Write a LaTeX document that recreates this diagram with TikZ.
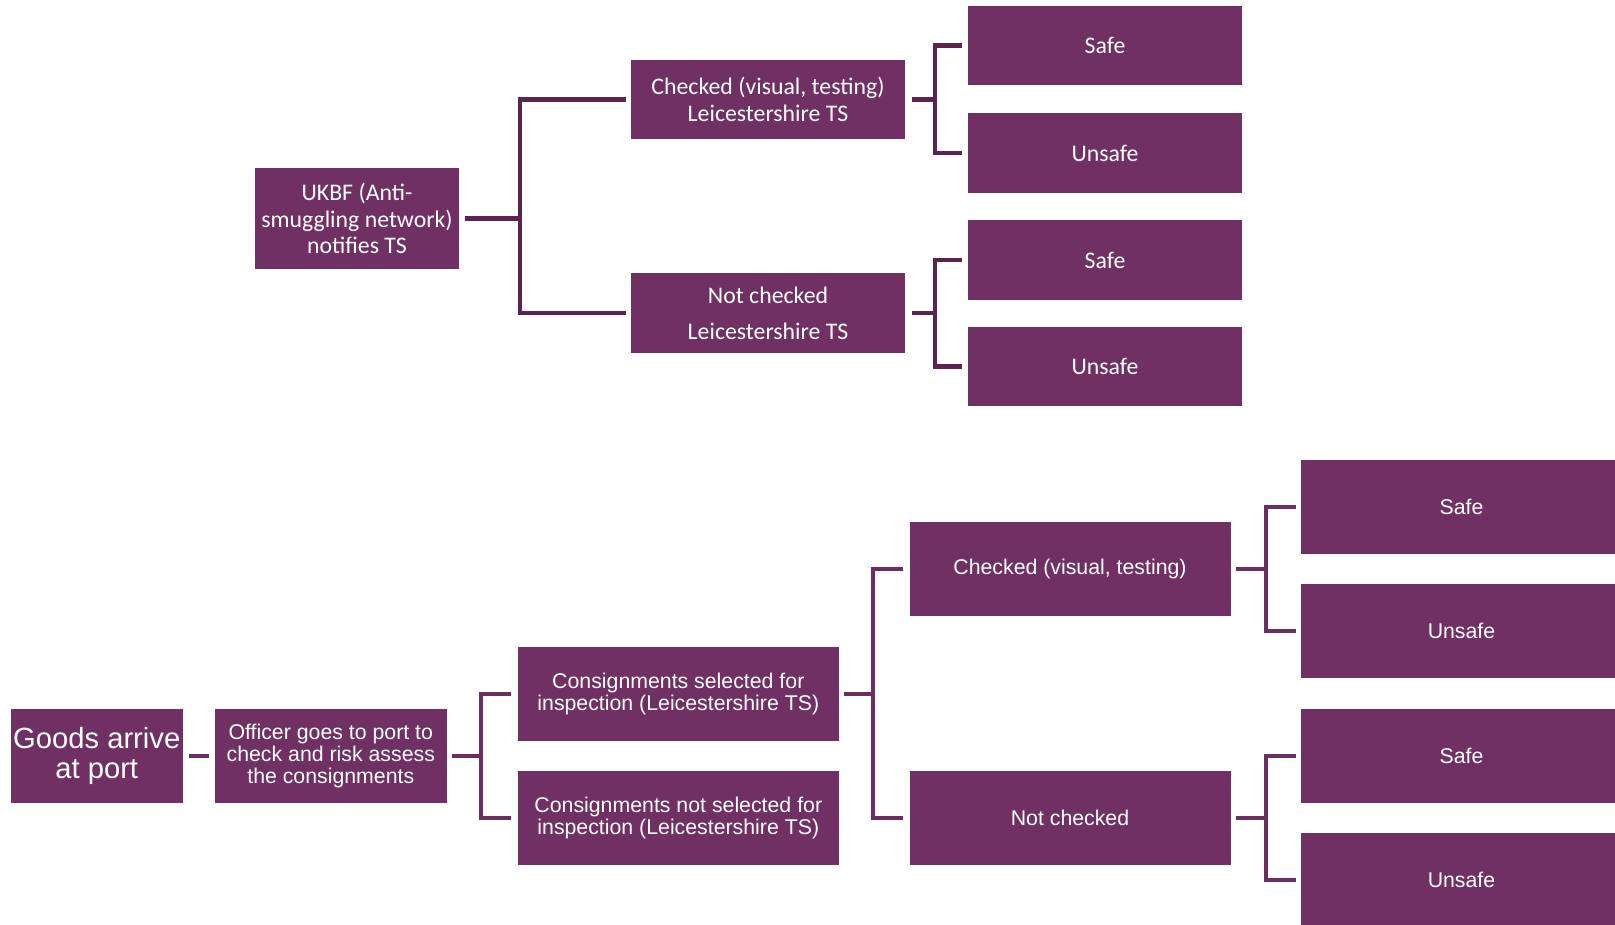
\documentclass[tikz,border=0pt]{standalone}
\usepackage{fontspec}
\newfontfamily\calib{Carlito}
\newfontfamily\arialf{Liberation Sans}
\definecolor{boxc}{RGB}{112,48,100}
\definecolor{tline}{RGB}{92,34,80}
\definecolor{bline}{RGB}{108,46,97}
\begin{document}
\begin{tikzpicture}[x=1pt,y=-1pt,
  box/.style={fill=boxc, draw=none, text=white, inner sep=0pt, align=center},
  tb/.style={box, font=\calib\fontsize{23.8}{26.6}\selectfont},
  bb/.style={box, font=\arialf\fontsize{21.3}{22.4}\selectfont},
  tconn/.style={draw=tline, line width=4.5pt},
  bconn/.style={draw=bline, line width=4.5pt}]
\clip (0,0) rectangle (1615,925);
\fill[white] (0,0) rectangle (1615,925);
% ---------- top tree ----------
\node[tb, minimum width=204pt, minimum height=101pt] (ukbf) at (357,218.5) {UKBF (Anti-\\smuggling network)\\notifies TS};
\node[tb, minimum width=274pt, minimum height=79pt] (tchk) at (768,99.5) {Checked (visual, testing)\\Leicestershire TS};
\node[tb, minimum width=274pt, minimum height=80pt] (tnot) at (768,313) {Not checked\\[9.2pt]Leicestershire TS};
\node[tb, minimum width=274pt, minimum height=79pt] (ts1) at (1105,45.5) {Safe};
\node[tb, minimum width=274pt, minimum height=80pt] (tu1) at (1105,153) {Unsafe};
\node[tb, minimum width=274pt, minimum height=80pt] (ts2) at (1105,260) {Safe};
\node[tb, minimum width=274pt, minimum height=79pt] (tu2) at (1105,366.5) {Unsafe};
\coordinate (f1) at (520,0);
\coordinate (f2) at (935,0);
\draw[tconn] ([xshift=5.5pt]ukbf.east) -- (ukbf.east -| f1);
\draw[tconn] ([xshift=-5pt]tchk.west) -- (tchk.west -| f1) -- (tnot.west -| f1) -- ([xshift=-5pt]tnot.west);
\draw[tconn] ([xshift=7pt]tchk.east) -- (tchk.east -| f2);
\draw[tconn] ([xshift=-6pt]ts1.west) -- (ts1.west -| f2) -- (tu1.west -| f2) -- ([xshift=-6pt]tu1.west);
\draw[tconn] ([xshift=7pt]tnot.east) -- (tnot.east -| f2);
\draw[tconn] ([xshift=-6pt]ts2.west) -- (ts2.west -| f2) -- (tu2.west -| f2) -- ([xshift=-6pt]tu2.west);
% ---------- bottom tree ----------
\node[box, font=\arialf\fontsize{29.2}{30}\selectfont, minimum width=171.5pt, minimum height=94pt] (goods) at (96.75,756) {Goods arrive\\at port};
\node[bb, minimum width=231.6pt, minimum height=94pt] (off) at (330.8,756) {Officer goes to port to\\check and risk assess\\the consignments};
\node[bb, minimum width=320.7pt, minimum height=94pt] (sel) at (678.3,694) {Consignments selected for\\inspection (Leicestershire TS)};
\node[bb, minimum width=320.7pt, minimum height=94pt] (nsel) at (678.3,818) {Consignments not selected for\\inspection (Leicestershire TS)};
\node[bb, minimum width=321pt, minimum height=94pt] (bchk) at (1070,569) {Checked (visual, testing)};
\node[bb, minimum width=321pt, minimum height=94pt] (bnot) at (1070,818) {Not checked};
\node[bb, minimum width=321pt, minimum height=94pt] (bs1) at (1461.5,507) {Safe};
\node[bb, minimum width=321pt, minimum height=94pt] (bu1) at (1461.5,631) {Unsafe};
\node[bb, minimum width=321pt, minimum height=94pt] (bs2) at (1461.5,756) {Safe};
\node[bb, minimum width=321pt, minimum height=94pt] (bu2) at (1461.5,880) {Unsafe};
\coordinate (g1) at (481,0);
\coordinate (g2) at (873,0);
\coordinate (g3) at (1266,0);
\draw[bconn] ([xshift=6.5pt]goods.east) -- ([xshift=-5.5pt]off.west);
\draw[bconn] ([xshift=5.5pt]off.east) -- (off.east -| g1);
\draw[bconn] ([xshift=-6.5pt]sel.west) -- (sel.west -| g1) -- (nsel.west -| g1) -- ([xshift=-6.5pt]nsel.west);
\draw[bconn] ([xshift=5.5pt]sel.east) -- (sel.east -| g2);
\draw[bconn] ([xshift=-6pt]bchk.west) -- (bchk.west -| g2) -- (bnot.west -| g2) -- ([xshift=-6pt]bnot.west);
\draw[bconn] ([xshift=5pt]bchk.east) -- (bchk.east -| g3);
\draw[bconn] ([xshift=-5pt]bs1.west) -- (bs1.west -| g3) -- (bu1.west -| g3) -- ([xshift=-5pt]bu1.west);
\draw[bconn] ([xshift=5pt]bnot.east) -- (bnot.east -| g3);
\draw[bconn] ([xshift=-5pt]bs2.west) -- (bs2.west -| g3) -- (bu2.west -| g3) -- ([xshift=-5pt]bu2.west);
\end{tikzpicture}
\end{document}
